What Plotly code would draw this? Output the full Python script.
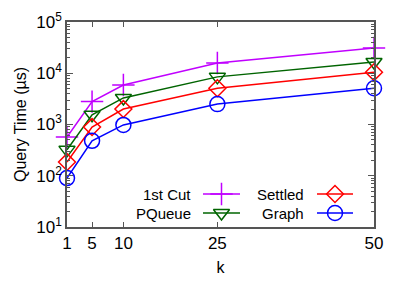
import plotly.graph_objects as go

k = [1, 5, 10, 25, 50]
first_cut = [570, 2800, 5900, 15800, 31000]
pqueue = [320, 1550, 3300, 8500, 16600]
settled = [185, 890, 2000, 5100, 10500]
graph = [90, 480, 980, 2500, 5100]

x_ticks = [1, 5, 10, 25, 50]
y_ticks = [10, 100, 1000, 10000, 100000]
y_tick_text = ["10<sup>1</sup>", "10<sup>2</sup>", "10<sup>3</sup>", "10<sup>4</sup>", "10<sup>5</sup>"]
minor_vals = [m * 10 ** e for e in range(1, 5) for m in range(2, 10)]

series = [
    ("1st Cut", first_cut, "#c000ff", "cross-thin-open", 16),
    ("PQueue", pqueue, "#006400", "triangle-down-open", 14),
    ("Settled", settled, "#ff0000", "diamond-open", 13),
    ("Graph", graph, "#0000ff", "circle-open", 15),
]

W, H = 407, 285
L, R, T, B = 67, 374, 22, 227

fig = go.Figure()
for name, vals, col, sym, sz in series:
    fig.add_trace(go.Scatter(
        x=k, y=vals, mode="lines+markers", name=name,
        line=dict(color=col, width=1.5),
        marker=dict(symbol=sym, size=sz, color=col, line=dict(color=col, width=1.5)),
        showlegend=False, cliponaxis=False,
    ))

# custom legend (text left of sample), on overlay pixel axes
legend_pos = [  # (text right edge, sample start, sample end, row y)
    (193, 203, 240, 194),
    (193, 203, 240, 213),
    (306, 317, 353, 194),
    (306, 317, 353, 213),
]
for (name, vals, col, sym, sz), (tx, s0, s1, yy) in zip(series, legend_pos):
    yb = H - yy
    fig.add_trace(go.Scatter(
        x=[s0, (s0 + s1) / 2, s1], y=[yb, yb, yb], xaxis="x2", yaxis="y2",
        mode="lines", line=dict(color=col, width=1.5), showlegend=False, hoverinfo="skip",
    ))
    fig.add_trace(go.Scatter(
        x=[(s0 + s1) / 2], y=[yb], xaxis="x2", yaxis="y2", mode="markers",
        marker=dict(symbol=sym, size=sz, color=col, line=dict(color=col, width=1.5)),
        showlegend=False, hoverinfo="skip", cliponaxis=False,
    ))
    fig.add_annotation(x=tx, y=yb, xref="x2", yref="y2", text=name, showarrow=False,
                       xanchor="right", yanchor="middle",
                       font=dict(size=15, color="#000000", family="Liberation Sans, Arial, sans-serif"))

axis_line = "#555555"
fig.update_layout(
    width=W, height=H,
    margin=dict(l=L, r=W - R, t=T, b=H - B, pad=0, autoexpand=False),
    paper_bgcolor="white", plot_bgcolor="white",
    font=dict(family="Liberation Sans, Arial, sans-serif", size=16, color="#000000"),
    xaxis=dict(
        range=[1, 50], tickvals=x_ticks, ticktext=[str(v) for v in x_ticks],
        ticks="inside", ticklen=5, tickcolor=axis_line, showline=True, linecolor=axis_line,
        linewidth=1.5, mirror="ticks", showgrid=False, zeroline=False, automargin=False,
        title=dict(text="k", standoff=10, font=dict(size=16)),
        tickfont=dict(size=17),
    ),
    yaxis=dict(
        type="log", range=[1, 5], tickvals=y_ticks, ticktext=y_tick_text,
        ticks="inside", ticklen=6, tickcolor=axis_line, showline=True, linecolor=axis_line,
        linewidth=1.5, mirror="ticks", showgrid=False, zeroline=False, automargin=False,
        minor=dict(tickvals=minor_vals, ticks="inside", ticklen=3, tickcolor=axis_line, showgrid=False),
        title=dict(text="Query Time (µs)", standoff=6, font=dict(size=16)),
        tickfont=dict(size=17),
    ),
    xaxis2=dict(overlaying="x", range=[L, R], visible=False, fixedrange=True),
    yaxis2=dict(overlaying="y", range=[H - B, H - T], visible=False, fixedrange=True),
)

fig.write_html("out.html", config={"displayModeBar": False},
               post_script="document.body.style.margin='0';document.body.style.padding='0';")
